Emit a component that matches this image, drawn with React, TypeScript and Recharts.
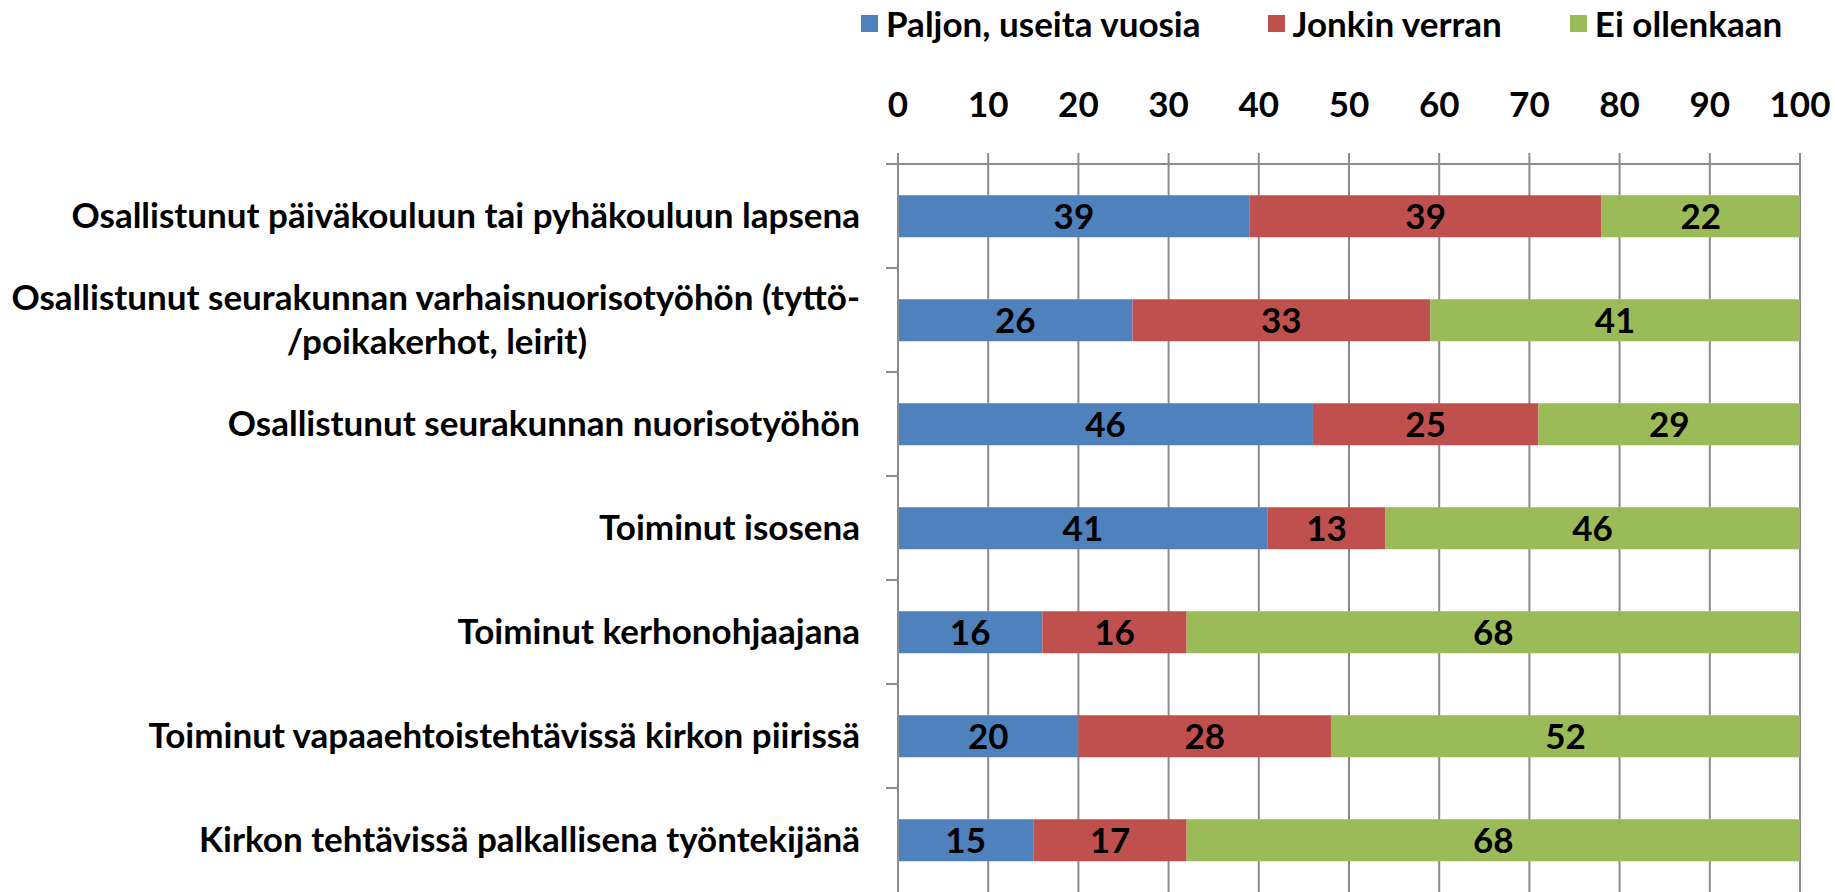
import React from 'react';
import { BarChart, Bar, XAxis, YAxis, CartesianGrid, Legend, LabelList } from 'recharts';

const categories = [
  'Osallistunut päiväkouluun tai pyhäkouluun lapsena',
  'Osallistunut seurakunnan varhaisnuorisotyöhön (tyttö-\n/poikakerhot, leirit)',
  'Osallistunut seurakunnan nuorisotyöhön',
  'Toiminut isosena',
  'Toiminut kerhonohjaajana',
  'Toiminut vapaaehtoistehtävissä kirkon piirissä',
  'Kirkon tehtävissä palkallisena työntekijänä',
];
const paljon = [39, 26, 46, 41, 16, 20, 15];
const jonkin = [39, 33, 25, 13, 16, 28, 17];
const ei = [22, 41, 29, 46, 68, 52, 68];
const seriesNames = ['Paljon, useita vuosia', 'Jonkin verran', 'Ei ollenkaan'];
const seriesColors = ['#4F81BD', '#C0504D', '#9BBB59'];
const xTicks = [0, 10, 20, 30, 40, 50, 60, 70, 80, 90, 100];

const data = categories.map((c, i) => ({ name: c, a: paljon[i], b: jonkin[i], c: ei[i] }));

const FONT = 'Lato, "DejaVu Sans Condensed", sans-serif';
const FS = 35;
const GRAY = '#8C8C8C';
const Y_TICK = 12;
const Y_MARGIN = 26;
const LEGEND_GAPS = [67, 68, 0];

const YTick = (props: any) => {
  const { x, y, payload } = props;
  const lines = String(payload.value).split('\n');
  const axisX = x + Y_TICK + Y_MARGIN;
  const off = payload.offset || 0;
  return (
    <g>
      <line x1={axisX - Y_TICK} x2={axisX} y1={y - off} y2={y - off} stroke={GRAY} strokeWidth={2} />
      {lines.length === 1 ? (
        <text x={x} y={y} dy="0.35em" textAnchor="end" fontFamily={FONT} fontWeight="bold" fontSize={FS} fill="#000">
          {lines[0]}
        </text>
      ) : (
        <text fontFamily={FONT} fontWeight="bold" fontSize={FS} fill="#000">
          <tspan x={x} y={y - 22} dy="0.35em" textAnchor="end">{lines[0]}</tspan>
          <tspan x={x - 273} y={y + 22} dy="0.35em" textAnchor="end">{lines[1]}</tspan>
        </text>
      )}
    </g>
  );
};

const LegendContent = () => (
  <div style={{ height: 46, display: 'flex', alignItems: 'center', paddingLeft: 861, fontFamily: FONT, fontWeight: 'bold', fontSize: FS, color: '#000' }}>
    {seriesNames.map((n, i) => (
      <div key={n} style={{ display: 'flex', alignItems: 'center', marginRight: LEGEND_GAPS[i] }}>
        <div style={{ width: 17, height: 17, background: seriesColors[i], marginRight: 8 }} />
        <span style={{ lineHeight: '46px' }}>{n}</span>
      </div>
    ))}
  </div>
);

export default function App() {
  return (
    <div style={{ position: 'fixed', left: 0, top: 0, width: 1835, height: 892, background: '#fff' }}>
      <BarChart
        width={1835}
        height={892}
        data={data}
        layout="vertical"
        margin={{ top: 0, right: 35, bottom: 0, left: 0 }}
        barCategoryGap="30%"
      >
        <Legend verticalAlign="top" align="left" content={<LegendContent />} wrapperStyle={{ top: 0, left: 0, width: 1835 }} />
        <CartesianGrid horizontal={false} vertical={true} stroke={GRAY} strokeWidth={2} />
        <XAxis
          type="number"
          orientation="top"
          domain={[0, 100]}
          ticks={xTicks}
          interval={0}
          height={118}
          tickSize={11}
          tickMargin={36}
          axisLine={{ stroke: GRAY, strokeWidth: 2 }}
          tickLine={{ stroke: GRAY, strokeWidth: 2 }}
          tick={{ fontFamily: FONT, fontWeight: 'bold', fontSize: FS, fill: '#000' }}
        />
        <YAxis
          type="category"
          dataKey="name"
          width={898}
          interval={0}
          tickSize={Y_TICK}
          tickMargin={Y_MARGIN}
          tickLine={false}
          axisLine={{ stroke: GRAY, strokeWidth: 2 }}
          tick={<YTick />}
        />
        <Bar dataKey="a" stackId="s" fill={seriesColors[0]} isAnimationActive={false}>
          <LabelList dataKey="a" position="center" fill="#000" fontFamily={FONT} fontWeight="bold" fontSize={FS} />
        </Bar>
        <Bar dataKey="b" stackId="s" fill={seriesColors[1]} isAnimationActive={false}>
          <LabelList dataKey="b" position="center" fill="#000" fontFamily={FONT} fontWeight="bold" fontSize={FS} />
        </Bar>
        <Bar dataKey="c" stackId="s" fill={seriesColors[2]} isAnimationActive={false}>
          <LabelList dataKey="c" position="center" fill="#000" fontFamily={FONT} fontWeight="bold" fontSize={FS} />
        </Bar>
      </BarChart>
    </div>
  );
}
